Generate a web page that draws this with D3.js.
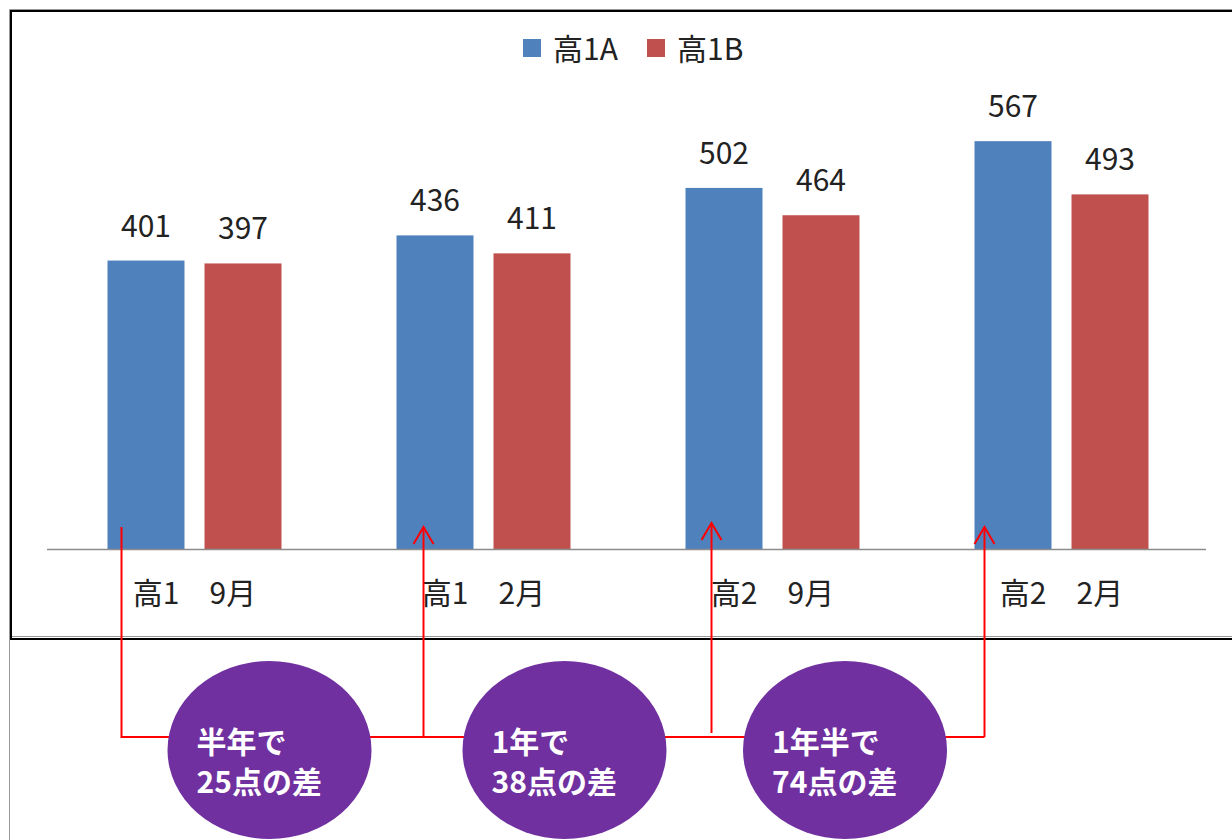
<!DOCTYPE html>
<html>
<head>
<meta charset="utf-8">
<script src="https://cdn.jsdelivr.net/npm/d3@7"></script>
<style>
  html, body { margin: 0; padding: 0; background: #fff; }
  svg { display: block; }
</style>
</head>
<body>
<svg id="chart"></svg>
<script>
// grouped bars, two classes, with score-gap bubbles underneath

const categories = ['高1\u30009月', '高1\u30002月', '高2\u30009月', '高2\u30002月'];
const seriesNames = ['高1A', '高1B'];
const valuesA = [401, 436, 502, 567];
const valuesB = [397, 411, 464, 493];
const bubbleLines = [
    ['半年で', '25点の差'],
    ['1年で', '38点の差'],
    ['1年半で', '74点の差'],
];

const W = 1232, H = 840;
const FONT = '"Noto Sans CJK JP", "Noto Sans", sans-serif';
const COLORS = { '高1A': '#4F81BD', '高1B': '#C0504D' };
const BASE_Y = 549;

const svg = d3.select('#chart').attr('width', W).attr('height', H)
    .style('font-family', FONT);

// ── Frame ────────────────────────────────────────────────────────────────
svg.append('path')
    .attr('d', `M9.5,${H} V9.5 H${W}`)
    .attr('fill', 'none').attr('stroke', '#999').attr('stroke-width', 1);
svg.append('line')
    .attr('x1', 12).attr('x2', W).attr('y1', 636.5).attr('y2', 636.5)
    .attr('stroke', '#999').attr('stroke-width', 1);
svg.append('rect')
    .attr('x', 11).attr('y', 11).attr('width', W + 20).attr('height', 628)
    .attr('fill', 'none').attr('stroke', '#000').attr('stroke-width', 2);

// ── Scales ───────────────────────────────────────────────────────────────
const x = d3.scaleBand().domain(categories).range([50, 1206]).padding(0);
const x1 = d3.scaleBand().domain(seriesNames)
    .range([x.bandwidth() / 2 - 87, x.bandwidth() / 2 + 87])
    .paddingInner(20 / 97).paddingOuter(0);
const y = d3.scaleLinear().domain([0, 600]).range([BASE_Y, BASE_Y - 0.7193 * 600]);

const rows = categories.map((c, i) => ({
    cat: c,
    vals: [
        { s: seriesNames[0], v: valuesA[i] },
        { s: seriesNames[1], v: valuesB[i] },
    ],
}));

// ── Bars + value labels ──────────────────────────────────────────────────
const g = svg.append('g');
const grp = g.selectAll('.grp').data(rows).join('g')
    .attr('class', 'grp')
    .attr('transform', d => `translate(${x(d.cat)},0)`);

grp.selectAll('rect').data(d => d.vals).join('rect')
    .attr('x', d => x1(d.s))
    .attr('width', x1.bandwidth())
    .attr('y', d => y(d.v))
    .attr('height', d => y(0) - y(d.v))
    .attr('fill', d => COLORS[d.s]);

grp.selectAll('text.val').data(d => d.vals).join('text')
    .attr('class', 'val')
    .attr('x', d => x1(d.s) + x1.bandwidth() / 2)
    .attr('y', d => y(d.v) - 24)
    .attr('text-anchor', 'middle')
    .attr('font-size', '30px')
    .attr('fill', '#222')
    .text(d => d.v);

// ── Axis ─────────────────────────────────────────────────────────────────
svg.append('line')
    .attr('x1', 47).attr('x2', 1206).attr('y1', BASE_Y + 0.5).attr('y2', BASE_Y + 0.5)
    .attr('stroke', '#8c8c8c').attr('stroke-width', 1.5);

const axisG = svg.append('g')
    .attr('transform', `translate(0,${BASE_Y})`)
    .call(d3.axisBottom(x).tickSize(0));
axisG.select('.domain').remove();
axisG.selectAll('text')
    .attr('y', 44).attr('dy', '0.35em')
    .attr('font-size', '30px')
    .attr('font-family', FONT)
    .attr('fill', '#222');

// ── Legend ───────────────────────────────────────────────────────────────
const legX = [523, 647];
seriesNames.forEach((s, i) => {
    svg.append('rect')
        .attr('x', legX[i]).attr('y', 39).attr('width', 18).attr('height', 18)
        .attr('fill', COLORS[s]);
    svg.append('text')
        .attr('x', legX[i] + 30).attr('y', 47)
        .attr('dominant-baseline', 'central')
        .attr('font-size', '30px').attr('fill', '#222')
        .text(s);
});

// ── Connectors & bubbles ─────────────────────────────────────────────────
const LINE_Y = 737;
const offsets = [14, 27, 26, 10];
const tipY = [527, 527, 523, 527];
const connX = categories.map((c, i) => x(c) + x1(seriesNames[0]) + offsets[i]);

const ann = svg.append('g')
    .attr('fill', 'none').attr('stroke', '#FF0000').attr('stroke-width', 2);

ann.append('path')
    .attr('d', `M${connX[0]},${tipY[0]} V${LINE_Y} H${connX[connX.length - 1]}`);
connX.slice(1).forEach((cx, i) => {
    const ty = tipY[i + 1];
    const bottom = i === 1 ? LINE_Y - 4 : LINE_Y;
    ann.append('path').attr('d', `M${cx},${bottom} V${ty}`);
    ann.append('path').attr('d', `M${cx - 10},${ty + 17} L${cx},${ty} L${cx + 10},${ty + 17}`);
});

const bub = svg.append('g');
bubbleLines.forEach((lines, i) => {
    const cx = (connX[i] + connX[i + 1]) / 2 - 3;
    bub.append('ellipse')
        .attr('cx', cx).attr('cy', 750)
        .attr('rx', 102).attr('ry', 89)
        .attr('fill', '#7030A0');
    lines.forEach((t, j) => {
        bub.append('text')
            .attr('x', cx - 73).attr('y', 740 + j * 40)
            .attr('dominant-baseline', 'central')
            .attr('font-size', '30px').attr('font-weight', 'bold')
            .attr('fill', '#fff')
            .text(t);
    });
});
</script>
</body>
</html>
